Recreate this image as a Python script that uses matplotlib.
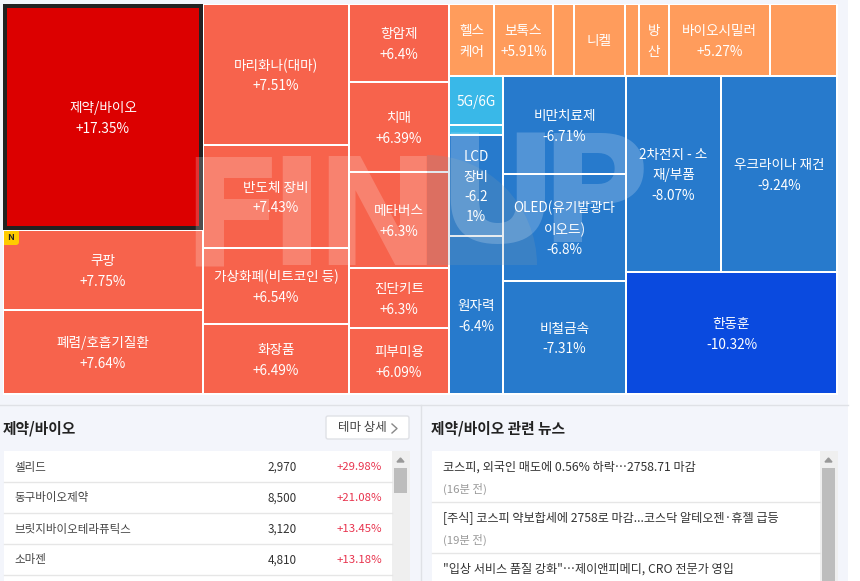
import matplotlib
matplotlib.use('Agg')
import matplotlib.pyplot as plt
from matplotlib.patches import Rectangle, FancyBboxPatch, Wedge

plt.rcParams['font.family'] = ['Noto Sans CJK KR', 'DejaVu Sans']

# 테마 이름과 등락률
themes = ['제약/바이오', '쿠팡', '폐렴/호흡기질환',
          '마리화나(대마)', '반도체 장비', '가상화폐(비트코인 등)', '화장품',
          '항암제', '치매', '메타버스', '진단키트', '피부미용',
          '헬스\n케어', '보톡스', '', '니켈', '', '방\n산', '바이오시밀러', '',
          '5G/6G', '', 'LCD\n장비', '원자력',
          '비만치료제', 'OLED(유기발광다\n이오드)', '비철금속',
          '2차전지 - 소\n재/부품', '우크라이나 재건', '한동훈']
changes = ['+17.35%', '+7.75%', '+7.64%',
           '+7.51%', '+7.43%', '+6.54%', '+6.49%',
           '+6.4%', '+6.39%', '+6.3%', '+6.3%', '+6.09%',
           '', '+5.91%', '', '', '', '', '+5.27%', '',
           '', '', '-6.2\n1%', '-6.4%',
           '-6.71%', '-6.8%', '-7.31%',
           '-8.07%', '-9.24%', '-10.32%']

# 하단 표
stock_names = ['셀리드', '동구바이오제약', '브릿지바이오테라퓨틱스', '소마젠']
stock_prices = ['2,970', '8,500', '3,120', '4,810']
stock_changes = ['+29.98%', '+21.08%', '+13.45%', '+13.18%']

# 하단 뉴스
news_titles = ['코스피, 외국인 매도에 0.56% 하락…2758.71 마감',
               '[주식] 코스피 약보합세에 2758로 마감...코스닥 알테오젠·휴젤 급등',
               '"입상 서비스 품질 강화"…제이앤피메디, CRO 전문가 영입']
news_times = ['(16분 전)', '(19분 전)', '']

# 셀 위치 (x0, x1, y0, y1) - 화면 픽셀 기준, themes 순서와 같음
boxes = [(7, 199, 8, 226), (4, 202, 231, 309), (4, 202, 311, 393),
         (204, 348, 5, 144), (204, 348, 146, 247), (204, 348, 249, 323), (204, 348, 325, 393),
         (350, 448, 5, 81), (350, 448, 83, 171), (350, 448, 173, 267), (350, 448, 269, 327), (350, 448, 329, 393),
         (450, 493, 5, 75), (495, 552, 5, 75), (554, 573, 5, 75), (575, 624, 5, 75),
         (626, 638, 5, 75), (640, 668, 5, 75), (670, 769, 5, 75), (771, 836, 5, 75),
         (450, 502, 77, 124), (450, 502, 126, 134), (450, 502, 136, 235), (450, 502, 237, 393),
         (504, 625, 77, 173), (504, 625, 175, 280), (504, 625, 282, 393),
         (627, 720, 77, 271), (722, 836, 77, 271), (627, 836, 273, 393)]

RED = '#f7634c'
ORANGE = '#ff9c5c'
BLUE = '#277acc'
SKY = '#39b8e8'
colors = ['#dc0000'] + [RED] * 11 + [ORANGE] * 8 + [SKY, SKY] + [BLUE] * 7 + ['#0a4adf']

fig = plt.figure(figsize=(8.6, 5.81), dpi=100, facecolor='white')
ax = fig.add_axes([0, 0, 1, 1])
ax.set_xlim(0, 860)
ax.set_ylim(581, 0)
ax.axis('off')


def rect(x0, x1, y0, y1, color, z=1, **kw):
    ax.add_patch(Rectangle((x0, y0), x1 - x0, y1 - y0, facecolor=color, edgecolor='none', zorder=z, **kw))


# 배경
rect(0, 848, 0, 581, '#f3f5fb')
rect(3, 838, 4, 395, 'white')

# 트리맵
rect(3, 203, 4, 230, '#222222', z=2)
for box, c in zip(boxes, colors):
    rect(box[0], box[1], box[2], box[3], c, z=2)

for box, name, chg in zip(boxes, themes, changes):
    label = name if not chg else name + '\n' + chg
    if not label:
        continue
    ax.text((box[0] + box[1]) / 2, (box[2] + box[3]) / 2 + 1.5, label, color='white', fontsize=9.8,
            ha='center', va='center', linespacing=1.57, zorder=6)

# N 뱃지
ax.add_patch(FancyBboxPatch((4, 231), 15, 14, boxstyle='round,pad=0,rounding_size=3',
                            facecolor='#ffcc00', edgecolor='none', zorder=3))
rect(4, 19, 231, 238, '#ffcc00', z=3)
rect(4, 11, 231, 245, '#ffcc00', z=3)
ax.text(11, 238, 'N', color='#222222', fontsize=6.5, fontweight='bold', ha='center', va='center', zorder=4)

# 워터마크
ax.add_patch(Wedge((427, 265), 110, 270, 360, facecolor='#7f9ab0', edgecolor='none', alpha=0.22, zorder=4))
for letter, xl, base in zip('FINUP', [181, 268, 314, 436, 539], [265, 265, 265, 242, 242]):
    ax.text(xl, base, letter, color='white', alpha=0.2, fontsize=108, fontweight='bold',
            ha='left', va='baseline', family='DejaVu Sans', zorder=5)

# 구분선
ax.plot([0, 848], [404.5, 404.5], color='#dfe1e6', lw=1, zorder=2)
ax.plot([420.5, 420.5], [405, 581], color='#dfe1e6', lw=1, zorder=2)

# 왼쪽 아래 패널
ax.text(3, 428, themes[0], color='#222222', fontsize=10.6, fontweight='bold', va='center')
ax.add_patch(FancyBboxPatch((326, 416), 83, 23, boxstyle='round,pad=0,rounding_size=2',
                            facecolor='white', edgecolor='#dfe1e6', lw=1, zorder=2))
ax.text(338, 428, '테마 상세', color='#444444', fontsize=9, va='center', zorder=3)
ax.plot([392, 397, 392], [424, 428.5, 433], color='#888888', lw=1, zorder=3)

rect(4, 392, 451, 581, 'white', z=2)
rect(392, 410, 451, 581, '#efefef', z=2)
rect(394, 407, 468, 493, '#bdbdbd', z=3)
ax.fill([397, 404, 400.5], [462, 462, 458], color='#999999', zorder=3)
for y in [481.5, 512.5, 543.5, 574.5]:
    ax.plot([4, 392], [y, y], color='#e6e6e6', lw=1, zorder=3)
for i, name in enumerate(stock_names):
    y = 467 + 31 * i
    ax.text(14, y, name, color='#444444', fontsize=8.3, va='center', zorder=4)
    ax.text(296.5, y, stock_prices[i], color='#333333', fontsize=8.4, va='center', ha='right', zorder=4)
    ax.text(382, y, stock_changes[i], color='#e8344e', fontsize=8.2, va='center', ha='right', zorder=4)

# 오른쪽 아래 패널
ax.text(431, 428, themes[0] + ' 관련 뉴스', color='#222222', fontsize=10.6, fontweight='bold', va='center')
rect(432, 820, 451, 581, 'white', z=2)
rect(820, 838, 451, 581, '#efefef', z=2)
rect(822, 835, 468, 581, '#bdbdbd', z=3)
ax.fill([825, 832, 828.5], [462, 462, 458], color='#999999', zorder=3)
for y in [501.5, 552.5]:
    ax.plot([432, 820], [y, y], color='#e6e6e6', lw=1, zorder=3)
for i, title in enumerate(news_titles):
    ax.text(443, 467 + 51 * i, title, color='#333333', fontsize=8.75, va='center', zorder=4)
    ax.text(443, 489 + 51 * i, news_times[i], color='#999999', fontsize=8.2, va='center', zorder=4)

fig.savefig('out.png', dpi=100)
